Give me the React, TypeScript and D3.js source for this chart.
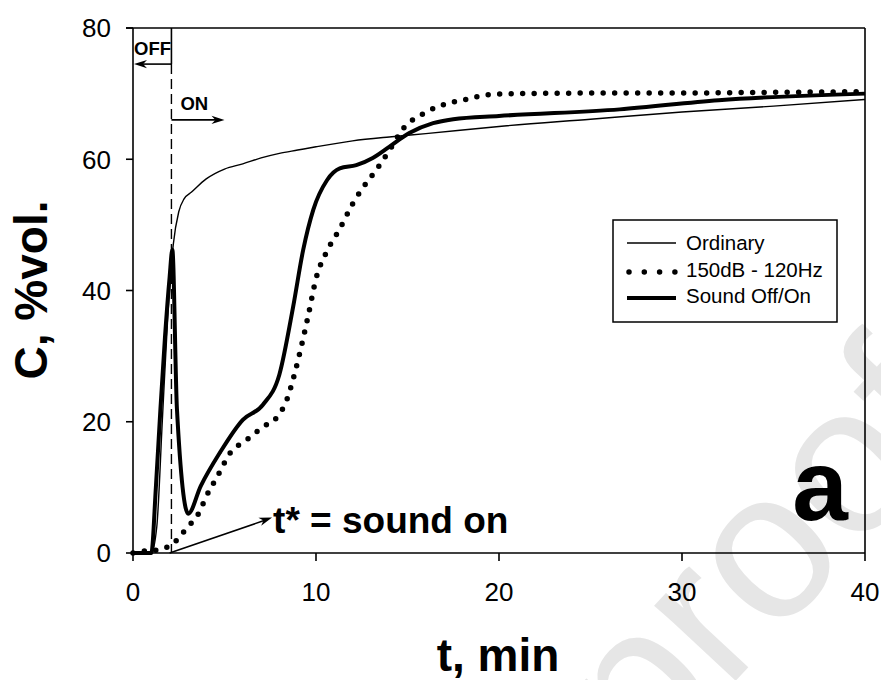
import React from "react";
import * as d3 from "d3";

// Time axis (min) and concentration (%vol.)
const ordinaryT = [0, 1.0, 1.3, 1.6, 1.9, 2.2, 2.5, 2.8, 3.2, 4, 5, 6, 7, 8, 9, 10, 12, 14, 16, 20, 25, 30, 35, 40];
const ordinaryC = [0, 0, 4, 20, 36, 47, 52, 54, 55, 57, 58.5, 59.3, 60.2, 60.9, 61.4, 61.9, 62.8, 63.4, 63.9, 65, 66.1, 67.2, 68.1, 69.1];

const toneT = [0, 0.6, 1.2, 1.8, 2.3, 2.7, 3.1, 3.6, 4.0, 4.6, 5.3, 6.2, 7.1, 7.9, 8.4, 8.8, 9.2, 9.6, 10.0, 10.6, 11.3, 12.0, 12.6, 13.3, 14.0, 14.8, 15.9, 17.3, 18.2, 19.3, 21, 23, 26, 30, 35, 40];
const toneC = [0, 0.3, 0.4, 0.8, 1.7, 3.0, 4.3, 6.1, 8.6, 11.6, 15.2, 17.2, 19.2, 20.8, 23.3, 27.0, 31.5, 36.5, 41.8, 46.0, 49.4, 53.2, 55.8, 58.4, 61.3, 64.8, 67.0, 68.6, 69.1, 69.8, 70.0, 70.05, 70.1, 70.1, 70.2, 70.3];

const switchT = [0, 0.6, 1.0, 1.25, 1.5, 1.75, 2.0, 2.15, 2.4, 3.02, 3.7, 4.75, 6.0, 7.1, 8.0, 8.75, 9.3, 9.85, 10.6, 11.3, 12.2, 13.1, 14.0, 15.1, 16.4, 17.5, 20, 26.6, 32, 40];
const switchC = [0, 0, 0, 10, 22, 33, 42, 46.2, 22, 6, 10.2, 15.3, 20.3, 22.6, 27.2, 37.5, 46.2, 52.3, 56.8, 58.6, 59.1, 60.2, 61.9, 64, 65.5, 66.1, 66.6, 67.6, 69.0, 70.0];

const xTicks = [0, 10, 20, 30, 40];
const yTicks = [0, 20, 40, 60, 80];

const legendLabels = ["Ordinary", "150dB - 120Hz", "Sound Off/On"];

// Sound switching instant and annotation anchors (data units)
const switchTime = 2.1;
const offArrowC = 74.5;
const onArrowC = 66;
const onArrowEndT = 5.0;
const starArrow = { t0: 2.0, c0: 0, t1: 7.6, c1: 5.4 };

const W = 881;
const H = 680;
const M = { left: 133, right: 16, top: 28, bottom: 127 };

const FONT = "'Liberation Sans', Arial, sans-serif";

function arrowHead(x: number, y: number, dx: number, dy: number, len = 13, half = 4.2) {
  const n = Math.hypot(dx, dy);
  const ux = dx / n;
  const uy = dy / n;
  const bx = x - ux * len;
  const by = y - uy * len;
  const px = -uy * half;
  const py = ux * half;
  const nx = x - ux * len * 0.7;
  const ny = y - uy * len * 0.7;
  return `M${x},${y}L${bx + px},${by + py}L${nx},${ny}L${bx - px},${by - py}Z`;
}

export default function App() {
  const x = d3.scaleLinear().domain([0, 40]).range([M.left, W - M.right]);
  const y = d3.scaleLinear().domain([0, 80]).range([H - M.bottom, M.top]);

  const line = d3
    .line<[number, number]>()
    .x((d) => x(d[0]))
    .y((d) => y(d[1]))
    .curve(d3.curveMonotoneX);

  const zip = (a: number[], b: number[]) => a.map((v, i) => [v, b[i]] as [number, number]);

  const x0 = x(0);
  const x1 = x(40);
  const yb = y(0);
  const yt = y(80);
  const xs = x(switchTime);

  const lgX = 613;
  const lgY = 220;

  const sx0 = x(starArrow.t0);
  const sy0 = y(starArrow.c0);
  const sx1 = x(starArrow.t1);
  const sy1 = y(starArrow.c1);

  return (
    <svg width={W} height={H} style={{ display: "block", position: "absolute", left: 0, top: 0, background: "#fff" }}>
      {/* watermark */}
      <text
        transform="translate(646,777) rotate(-47)"
        fontFamily={FONT}
        fontSize={210}
        fill="#e6e6e6"
      >
        proof
      </text>

      {/* frame */}
      <g stroke="#000" strokeWidth={1.6} fill="none">
        <line x1={x0} y1={yt} x2={x0} y2={yb} />
        <line x1={x0 - 7} y1={yt} x2={x1} y2={yt} />
        <line x1={x1} y1={yt} x2={x1} y2={yb} />
        <line x1={x0} y1={yb} x2={x1} y2={yb} />
        {yTicks.map((v) => (
          <line key={"yt" + v} x1={x0 - 7} x2={x0} y1={y(v)} y2={y(v)} />
        ))}
        {xTicks.map((v) => (
          <line key={"xt" + v} x1={x(v)} x2={x(v)} y1={yb} y2={yb + 8} />
        ))}
      </g>
      <g fontFamily={FONT} fontSize={26} fill="#000">
        {yTicks.map((v) => (
          <text key={"yl" + v} x={x0 - 22} y={y(v)} dy="0.36em" textAnchor="end">
            {v}
          </text>
        ))}
        {xTicks.map((v) => (
          <text key={"xl" + v} x={x(v)} y={yb + 48} textAnchor="middle">
            {v}
          </text>
        ))}
      </g>

      {/* axis titles */}
      <text x={498} y={671} textAnchor="middle" fontFamily={FONT} fontWeight="bold" fontSize={46}>
        t, min
      </text>
      <text
        transform="translate(47,290) rotate(-90)"
        textAnchor="middle"
        fontFamily={FONT}
        fontWeight="bold"
        fontSize={46}
      >
        C, %vol.
      </text>

      {/* switching marker */}
      <line x1={xs} x2={xs} y1={yt} y2={y(offArrowC)} stroke="#000" strokeWidth={1.6} />
      <line x1={xs} x2={xs} y1={y(offArrowC)} y2={yb} stroke="#000" strokeWidth={1.4} strokeDasharray="10 5" />
      <line x1={xs} x2={x0 + 8} y1={y(offArrowC)} y2={y(offArrowC)} stroke="#000" strokeWidth={1.6} />
      <path d={arrowHead(x0 + 1, y(offArrowC), -1, 0)} fill="#000" />
      <line x1={xs} x2={x(onArrowEndT) - 8} y1={y(onArrowC)} y2={y(onArrowC)} stroke="#000" strokeWidth={1.6} />
      <path d={arrowHead(x(onArrowEndT), y(onArrowC), 1, 0)} fill="#000" />
      <text x={x0 + 1} y={55} fontFamily={FONT} fontWeight="bold" fontSize={18.5}>
        OFF
      </text>
      <text x={xs + 9} y={110} fontFamily={FONT} fontWeight="bold" fontSize={18.5}>
        ON
      </text>

      {/* series */}
      <path d={line(zip(ordinaryT, ordinaryC)) || ""} fill="none" stroke="#000" strokeWidth={1.4} />
      <path
        d={line(zip(toneT, toneC)) || ""}
        fill="none"
        stroke="#000"
        strokeWidth={5.5}
        strokeLinecap="round"
        strokeDasharray="0 11.5"
      />
      <path d={line(zip(switchT, switchC)) || ""} fill="none" stroke="#000" strokeWidth={4} strokeLinejoin="round" />

      {/* t* annotation */}
      <line x1={sx0} y1={sy0} x2={sx1 - 8} y2={sy1 + 3} stroke="#000" strokeWidth={1.6} />
      <path d={arrowHead(sx1, sy1, sx1 - sx0, sy1 - sy0)} fill="#000" />
      <text x={sx1 + 1} y={533} fontFamily={FONT} fontWeight="bold" fontSize={37}>
        t* = sound on
      </text>

      {/* panel letter */}
      <text x={820} y={520} textAnchor="middle" fontFamily={FONT} fontWeight="bold" fontSize={100}>
        a
      </text>

      {/* legend */}
      <rect x={lgX} y={lgY} width={224} height={102} fill="#fff" stroke="#000" strokeWidth={1.5} />
      <line x1={lgX + 14} x2={lgX + 63} y1={lgY + 23} y2={lgY + 23} stroke="#000" strokeWidth={1.4} />
      <line
        x1={lgX + 16}
        x2={lgX + 62}
        y1={lgY + 52}
        y2={lgY + 52}
        stroke="#000"
        strokeWidth={5.5}
        strokeLinecap="round"
        strokeDasharray="0 15.3"
      />
      <line x1={lgX + 14} x2={lgX + 63} y1={lgY + 78} y2={lgY + 78} stroke="#000" strokeWidth={4} />
      <g fontFamily={FONT} fontSize={20.5}>
        {legendLabels.map((s, i) => (
          <text key={s} x={lgX + 73} y={lgY + 30 + i * 26.5}>
            {s}
          </text>
        ))}
      </g>
    </svg>
  );
}
